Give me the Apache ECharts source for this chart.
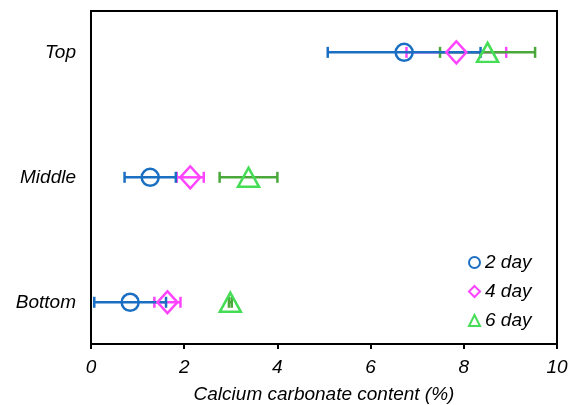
<!DOCTYPE html>
<html>
<head>
<meta charset="utf-8">
<script src="https://cdn.jsdelivr.net/npm/echarts@6/dist/echarts.min.js"></script>
<style>
html, body { margin: 0; padding: 0; background: #fff; }
#chart { width: 573px; height: 405px; }
</style>
</head>
<body>
<div id="chart"></div>
<script>
/*----- data -----*/
var positions = ['Bottom', 'Middle', 'Top'];
var dayNames = ['2 day', '4 day', '6 day'];
var day2Mean = [0.84, 1.27, 6.72];
var day2Err = [0.77, 0.55, 1.64];
var day4Mean = [1.64, 2.13, 7.84];
var day4Err = [0.28, 0.29, 1.07];
var day6Mean = [2.99, 3.38, 8.51];
var day6Err = [0.03, 0.62, 1.02];
var xTicks = [0, 2, 4, 6, 8, 10];

var font = 'Liberation Sans, Arial, sans-serif';

function barData(mean, err){
	var list = [];
	for(var i = 0; i < mean.length; i++){
		list.push([mean[i] - err[i], mean[i] + err[i], i]);
	}
	return list;
}
function pointData(mean){
	var list = [];
	for(var i = 0; i < mean.length; i++){
		list.push([mean[i], i]);
	}
	return list;
}
function renderBar(params, api){
	var lo = api.coord([api.value(0), api.value(2)]);
	var hi = api.coord([api.value(1), api.value(2)]);
	var h = 5.5;
	var style = { stroke: api.visual('color'), lineWidth: 2.5 };
	return {
		type: 'group',
		children: [
			{ type: 'line', shape: { x1: lo[0], y1: lo[1], x2: hi[0], y2: hi[1] }, style: style },
			{ type: 'line', shape: { x1: lo[0], y1: lo[1] - h, x2: lo[0], y2: lo[1] + h }, style: style },
			{ type: 'line', shape: { x1: hi[0], y1: hi[1] - h, x2: hi[0], y2: hi[1] + h }, style: style }
		]
	};
}
function errSeries(mean, err, color, z){
	return {
		type: 'custom',
		renderItem: renderBar,
		itemStyle: { color: color },
		encode: { x: [0, 1], y: 2 },
		data: barData(mean, err),
		z: z,
		silent: true
	};
}
function markSeries(name, mean, symbol, size, color){
	return {
		name: name,
		type: 'scatter',
		symbol: symbol,
		symbolSize: size,
		itemStyle: { color: 'rgba(0,0,0,0)', borderColor: color, borderWidth: 2.5, opacity: 1 },
		data: pointData(mean),
		z: 10
	};
}

var option = {
	animation: false,
	grid: {
		left: 91, right: 16, top: 11, bottom: 61,
		outerBoundsMode: 'none',
		containLabel: false,
		show: true, borderColor: '#000', borderWidth: 2
	},
	legend: {
		orient: 'vertical',
		left: 463,
		top: 248,
		itemWidth: 11,
		itemHeight: 11,
		itemGap: 10,
		data: dayNames,
		textStyle: { fontFamily: font, fontStyle: 'italic', fontSize: 19, color: '#000' }
	},
	xAxis: {
		type: 'value',
		min: 0,
		max: 10,
		interval: 2,
		name: 'Calcium carbonate content (%)',
		nameLocation: 'middle',
		nameGap: 41,
		nameTextStyle: { fontFamily: font, fontStyle: 'italic', fontSize: 19, color: '#000' },
		axisLine: { onZero: false, lineStyle: { color: '#000', width: 2 } },
		axisTick: { show: true, length: 5, lineStyle: { color: '#000', width: 2 } },
		axisLabel: {
			margin: 14,
			fontFamily: font, fontStyle: 'italic', fontSize: 19, color: '#000',
			formatter: function(v){ return xTicks.indexOf(v) >= 0 ? String(v) : ''; }
		},
		splitLine: { show: false }
	},
	yAxis: {
		type: 'value',
		min: -0.334,
		max: 2.331,
		axisLine: { show: true, onZero: false, lineStyle: { color: '#000', width: 2 } },
		axisTick: { show: false },
		axisLabel: {
			margin: 15,
			customValues: [0, 1, 2],
			fontFamily: font, fontStyle: 'italic', fontSize: 19, color: '#000',
			formatter: function(v){ return positions[Math.round(v)]; }
		},
		splitLine: { show: false }
	},
	series: [
		errSeries(day4Mean, day4Err, '#ff44ff', 2),
		errSeries(day6Mean, day6Err, '#4aa83a', 3),
		errSeries(day2Mean, day2Err, '#1b6fc2', 4),
		markSeries(dayNames[0], day2Mean, 'circle', 17, '#1b6fc2'),
		markSeries(dayNames[1], day4Mean, 'diamond', [20, 22], '#ff44ff'),
		markSeries(dayNames[2], day6Mean, 'triangle', [21, 19], '#44dd55')
	]
};
echarts.init(document.getElementById('chart')).setOption(option, true);
</script>
</body>
</html>
